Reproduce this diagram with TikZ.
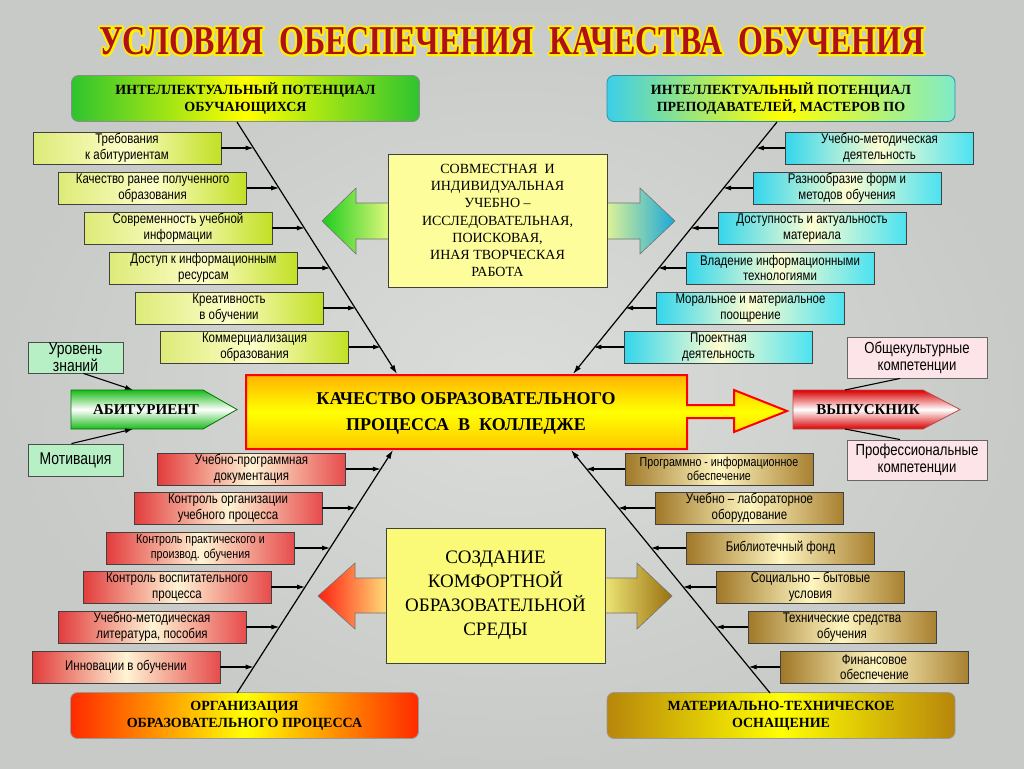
\documentclass[tikz,border=0pt]{standalone}
\usepackage{fontspec}
\usepackage{graphicx}
\setmainfont{Liberation Serif}
\setsansfont{Liberation Sans}
\newfontfamily\narrowsf[FakeStretch=0.82]{Liberation Sans}
\newfontfamily\ttlfont[FakeStretch=0.78]{Liberation Serif}
\usetikzlibrary{arrows.meta,calc}
\definecolor{bgin}{HTML}{DBDDDB}
\definecolor{bgout}{HTML}{C8CAC8}
\definecolor{ttlred}{HTML}{B0101A}
\definecolor{ttlyel}{HTML}{FFF000}
\definecolor{hgreen}{HTML}{2EC42E}
\definecolor{hcyan}{HTML}{3CCFEA}
\definecolor{hred}{HTML}{FF2A00}
\definecolor{hgold}{HTML}{B8860B}
\definecolor{tlL}{HTML}{DDEB78}
\definecolor{tlM}{HTML}{FDFDC8}
\definecolor{tlR}{HTML}{C2E024}
\definecolor{trL}{HTML}{34D6EC}
\definecolor{trM}{HTML}{FDFDD0}
\definecolor{trR}{HTML}{4CE2F0}
\definecolor{blL}{HTML}{E23C3C}
\definecolor{blM}{HTML}{FFF4D4}
\definecolor{blR}{HTML}{E64C4C}
\definecolor{brL}{HTML}{A07828}
\definecolor{brM}{HTML}{FFF6C0}
\definecolor{brR}{HTML}{A88030}
\definecolor{agreen}{HTML}{1ECC1E}
\definecolor{ayel}{HTML}{FFFF8C}
\definecolor{ablue}{HTML}{1AA8D8}
\definecolor{ared}{HTML}{FF2010}
\definecolor{abrown}{HTML}{9A7010}
\definecolor{coopfill}{HTML}{FDFD9C}
\definecolor{comffill}{HTML}{FAFA78}
\definecolor{corange}{HTML}{FFB400}
\definecolor{corange2}{HTML}{FFC800}
\definecolor{lgreen}{HTML}{B6F0C4}
\definecolor{lpink}{HTML}{FDE4E8}
\newcommand{\ttltext}{\ttlfont\bfseries\fontsize{41}{41}\selectfont УСЛОВИЯ\ \ ОБЕСПЕЧЕНИЯ\ \ КАЧЕСТВА\ \ ОБУЧЕНИЯ}
\tikzset{
  hdr/.style={rounded corners=7pt, line width=0.8pt, minimum width=348pt, minimum height=46pt, inner sep=0pt, align=center, font=\bfseries\fontsize{14}{17}\selectfont},
  sbox/.style={draw=black!75, line width=0.9pt, minimum width=188pt, minimum height=32pt, inner sep=0pt, align=center, font=\narrowsf\fontsize{14}{15.5}\selectfont},
  gbox/.style={sbox, left color=tlL, right color=tlR, middle color=tlM},
  cbox/.style={sbox, left color=trL, right color=trR, middle color=trM},
  rbox/.style={sbox, left color=blL, right color=blR, middle color=blM},
  obox/.style={sbox, left color=brL, right color=brR, middle color=brM},
  smalltxt/.style={font=\narrowsf\fontsize{13}{14.5}\selectfont},
  sidebox/.style={draw=black!70, line width=0.9pt, inner sep=0pt, align=center},
  spine/.style={line width=1.2pt, -{Latex[length=9pt,width=5.5pt]}},
  twig/.style={line width=1.1pt, -{Latex[length=8pt,width=5pt]}},
  plain/.style={line width=1.1pt},
  fan/.style={draw=black!55, line width=0.6pt},
}
\begin{document}
\begin{tikzpicture}[x=1pt,y=-1pt]
\useasboundingbox (0,0) rectangle (1024,768);
\shade[inner color=bgin, outer color=bgout] (0,0) rectangle (1024,768);

% title: yellow stroked outline under the red fill
\node[inner sep=0pt] (titleoutline) at (512,41) {\special{pdf:literal 1 Tr 1 J 1 j 4.2 w 1 0.94 0 RG}\ttltext\special{pdf:literal 0 Tr 0.4 w}};
\node[text=ttlred, inner sep=0pt] (title) at (512,41) {\ttltext};

% headers
\node[hdr, draw=black!45, left color=hgreen, right color=hgreen, middle color=yellow] (hTL) at (245.5,98.5) {ИНТЕЛЛЕКТУАЛЬНЫЙ ПОТЕНЦИАЛ\\ОБУЧАЮЩИХСЯ};
\node[hdr, draw=hcyan!70!black, left color=hcyan, right color=hcyan!70!green!60, middle color=yellow] (hTR) at (781,98.5) {ИНТЕЛЛЕКТУАЛЬНЫЙ ПОТЕНЦИАЛ\\ПРЕПОДАВАТЕЛЕЙ, МАСТЕРОВ ПО};
\node[hdr, draw=black!40, left color=hred, right color=hred, middle color=yellow] (hBL) at (244.5,715.5) {ОРГАНИЗАЦИЯ\\ОБРАЗОВАТЕЛЬНОГО ПРОЦЕССА};
\node[hdr, draw=black!40, left color=hgold, right color=hgold, middle color=yellow] (hBR) at (781,715.5) {МАТЕРИАЛЬНО-ТЕХНИЧЕСКОЕ\\ОСНАЩЕНИЕ};

% central quality arrow
\shadedraw[draw=red, line width=2pt, top color=corange, bottom color=corange2, middle color=yellow]
  (246,375) -- (687,375) -- (687,405) -- (734,405) -- (734,390) -- (787,411) -- (734,432) -- (734,418) -- (687,418) -- (687,449) -- (246,449) -- cycle;
\node[font=\bfseries\fontsize{18}{26}\selectfont, align=center, inner sep=0pt] (qual) at (466,413) {КАЧЕСТВО ОБРАЗОВАТЕЛЬНОГО\\ПРОЦЕССА\ \ В\ \ КОЛЛЕДЖЕ};

% top double arrow and box
\shadedraw[fan, left color=agreen, right color=ayel] (322,221) -- (356,188) -- (356,203) -- (400,203) -- (400,239) -- (356,239) -- (356,254) -- cycle;
\shadedraw[fan, left color=ayel, right color=ablue] (595,203) -- (640,203) -- (640,188) -- (675,221) -- (640,254) -- (640,239) -- (595,239) -- cycle;
\node[draw=black!75, line width=0.8pt, fill=coopfill, minimum width=219pt, minimum height=133pt, inner sep=0pt, align=center, font=\fontsize{14}{17.2}\selectfont] (coop) at (497.5,220.5) {СОВМЕСТНАЯ\ \ И\\ИНДИВИДУАЛЬНАЯ\\УЧЕБНО –\\ИССЛЕДОВАТЕЛЬНАЯ,\\ПОИСКОВАЯ,\\ИНАЯ ТВОРЧЕСКАЯ\\РАБОТА};

% bottom double arrow and box
\shadedraw[fan, left color=ared, right color=ayel] (318,596) -- (355,563) -- (355,578) -- (400,578) -- (400,613) -- (355,613) -- (355,629) -- cycle;
\shadedraw[fan, left color=ayel, right color=abrown] (590,578) -- (637,578) -- (637,563) -- (672,596) -- (637,629) -- (637,613) -- (590,613) -- cycle;
\node[draw=black!75, line width=0.8pt, fill=comffill, minimum width=219pt, minimum height=135pt, inner sep=0pt, align=center, font=\fontsize{19}{24}\selectfont] (comf) at (495.5,595.5) {СОЗДАНИЕ\\КОМФОРТНОЙ\\ОБРАЗОВАТЕЛЬНОЙ\\СРЕДЫ};

% spines
\coordinate (tlS) at (237,122); \coordinate (tlE) at (397,374);
\coordinate (trS) at (777,122); \coordinate (trE) at (573,374);
\coordinate (blS) at (237,693); \coordinate (blE) at (393,450);
\coordinate (brS) at (770,693); \coordinate (brE) at (571,450);
\draw[spine] (tlS) -- (tlE);
\draw[spine] (trS) -- (trE);
\draw[spine] (blS) -- (blE);
\draw[spine] (brS) -- (brE);

% top-left boxes
\node[gbox] (tl1) at (127,148) {Требования\\к абитуриентам};
\node[gbox] (tl2) at (152.5,188) {Качество ранее полученного\\образования};
\node[gbox] (tl3) at (178,228) {Современность учебной\\информации};
\node[gbox] (tl4) at (203.5,268) {Доступ к информационным\\ресурсам};
\node[gbox] (tl5) at (229,308) {Креативность\\в обучении};
\node[gbox] (tl6) at (254.5,347) {Коммерциализация\\образования};
\coordinate (ptl1) at (253.6,148); \coordinate (ptl2) at (279.2,188);
\coordinate (ptl3) at (304.8,228); \coordinate (ptl4) at (330.4,268);
\coordinate (ptl5) at (356.0,308); \coordinate (ptl6) at (381.0,347);
\foreach \i in {1,...,6} \draw[twig] (tl\i.east) -- (ptl\i);

% top-right boxes
\node[cbox] (tr1) at (879.5,148) {Учебно-методическая\\деятельность};
\node[cbox] (tr2) at (847,188) {Разнообразие форм и\\методов обучения};
\node[cbox] (tr3) at (812,228) {Доступность и актуальность\\материала};
\node[cbox] (tr4) at (780,268) {Владение информационными\\технологиями};
\node[cbox] (tr5) at (750.5,308) {Моральное и материальное\\поощрение};
\node[cbox] (tr6) at (718.5,347) {Проектная\\деятельность};
\coordinate (ptr1) at (755.8,148); \coordinate (ptr2) at (723.1,188);
\coordinate (ptr3) at (690.5,228); \coordinate (ptr4) at (657.9,268);
\coordinate (ptr5) at (625.2,308); \coordinate (ptr6) at (593.4,347);
\foreach \i in {1,...,6} \draw[twig] (tr\i.west) -- (ptr\i);

% bottom-left boxes
\node[rbox] (bl1) at (251.5,469) {Учебно-программная\\документация};
\node[rbox] (bl2) at (228,508) {Контроль организации\\учебного процесса};
\node[rbox, smalltxt] (bl3) at (200.5,548) {Контроль практического и\\производ. обучения};
\node[rbox] (bl4) at (177,587) {Контроль воспитательного\\процесса};
\node[rbox] (bl5) at (152,627) {Учебно-методическая\\литература, пособия};
\node[rbox] (bl6) at (126,667) {Инновации в обучении};
\coordinate (pbl1) at (380.8,469); \coordinate (pbl2) at (355.8,508);
\coordinate (pbl3) at (330.1,548); \coordinate (pbl4) at (305.1,587);
\coordinate (pbl5) at (279.4,627); \coordinate (pbl6) at (253.7,667);
\foreach \i in {1,...,6} \draw[twig] (bl\i.east) -- (pbl\i);

% bottom-right boxes
\node[obox, smalltxt] (br1) at (719,469) {Программно - информационное\\обеспечение};
\node[obox] (br2) at (749.5,508) {Учебно – лабораторное\\оборудование};
\node[obox] (br3) at (780.5,548) {Библиотечный фонд};
\node[obox] (br4) at (810.5,587) {Социально – бытовые\\условия};
\node[obox] (br5) at (842,627) {Технические средства\\обучения};
\node[obox] (br6) at (874.5,667) {Финансовое\\обеспечение};
\coordinate (pbr1) at (585.8,469); \coordinate (pbr2) at (617.9,508);
\coordinate (pbr3) at (650.7,548); \coordinate (pbr4) at (682.8,587);
\coordinate (pbr5) at (715.7,627); \coordinate (pbr6) at (748.6,667);
\foreach \i in {1,...,6} \draw[twig] (br\i.west) -- (pbr\i);

% entrant
\shadedraw[draw=green!45!black, line width=0.8pt, top color=green!70!black!90, bottom color=green!70!black!90, middle color=white]
  (71,390) -- (203,390) -- (237,409.5) -- (203,429) -- (71,429) -- cycle;
\node[font=\bfseries\fontsize{15}{17}\selectfont, inner sep=0pt] (abit) at (146,410) {АБИТУРИЕНТ};
\coordinate (abA) at (133,390);
\coordinate (abB) at (133,429);
\node[sidebox, fill=lgreen, minimum width=95pt, minimum height=31pt, font=\narrowsf\fontsize{17}{14}\selectfont] (urov) at (75.5,357.5) {Уровень\\знаний};
\node[sidebox, fill=lgreen, minimum width=95pt, minimum height=32pt, font=\narrowsf\fontsize{17}{14}\selectfont] (motiv) at (75.5,460) {Мотивация};
\draw[twig] ([xshift=8pt]urov.south) -- (abA);
\draw[twig] ([xshift=-4pt]motiv.north) -- (abB);

% graduate
\shadedraw[draw=red!60!black!70, line width=0.8pt, top color=red!85!black, bottom color=red!85!black, middle color=white]
  (793,390) -- (923,390) -- (960,409.5) -- (923,429) -- (793,429) -- cycle;
\node[font=\bfseries\fontsize{15}{17}\selectfont, inner sep=0pt] (vyp) at (868,410) {ВЫПУСКНИК};
\coordinate (vyA) at (845,390);
\coordinate (vyB) at (845,429);
\node[sidebox, draw=black!60, fill=lpink, minimum width=140pt, minimum height=41pt, font=\narrowsf\fontsize{16}{17}\selectfont] (obsh) at (917,357.5) {Общекультурные\\компетенции};
\node[sidebox, draw=black!60, fill=lpink, minimum width=140pt, minimum height=40pt, font=\narrowsf\fontsize{16}{17}\selectfont] (prof) at (917,460) {Профессиональные\\компетенции};
\draw[plain] (vyA) -- ([xshift=-17pt]obsh.south);
\draw[plain] (vyB) -- ([xshift=-17pt]prof.north);
\end{tikzpicture}
\end{document}
